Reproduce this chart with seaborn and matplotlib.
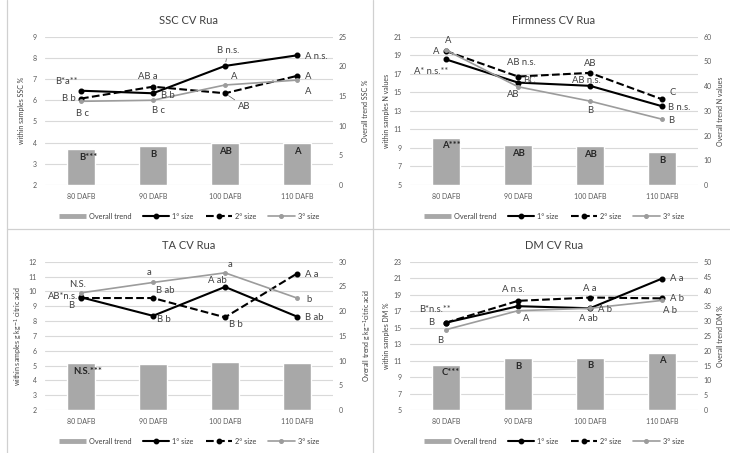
import numpy as np
import matplotlib
matplotlib.use("Agg")
import matplotlib.pyplot as plt
from matplotlib.lines import Line2D
import seaborn as sns

# ---------------- data ----------------
stages = ["80 DAFB", "90 DAFB", "100 DAFB", "110 DAFB"]
legend_labels = ["Overall trend", "1° size", "2° size", "3° size"]

# SSC (%)
ssc_overall = [6.05, 6.55, 7.0, 7.0]
ssc_size1 = [6.45, 6.33, 7.62, 8.12]
ssc_size2 = [6.08, 6.64, 6.33, 7.15]
ssc_size3 = [5.95, 6.0, 6.72, 6.95]
ssc_letters1 = ["B*a**", "B b", "B n.s.", "A n.s."]
ssc_letters2 = ["B b", "AB a", "AB", "A"]
ssc_letters3 = ["B c", "B c", "A", "A"]
ssc_bar_letters = ["B***", "B", "AB", "A"]

# Firmness (N)
firm_overall = [19.1, 16.0, 15.6, 13.2]
firm_size1 = [18.55, 16.05, 15.7, 13.5]
firm_size2 = [19.45, 16.7, 17.1, 14.25]
firm_size3 = [19.55, 15.6, 14.05, 12.1]
firm_letters1 = ["A* n.s.**", "BC", "AB n.s.", "B n.s."]
firm_letters2 = ["A", "AB n.s.", "AB", "C"]
firm_letters3 = ["A", "AB", "B", "B"]
firm_bar_letters = ["A***", "AB", "AB", "B"]

# TA (g kg-1 citric acid)
ta_overall = [9.45, 9.35, 9.8, 9.5]
ta_size1 = [9.6, 8.35, 10.3, 8.3]
ta_size2 = [9.55, 9.55, 8.25, 11.2]
ta_size3 = [9.9, 10.6, 11.25, 9.55]
ta_letters1 = ["AB*n.s.", "B b", "A ab", "B ab"]
ta_letters2 = ["B", "B ab", "B b", "A a"]
ta_letters3 = ["N.S.", "a", "a", "b"]
ta_bar_letters = ["N.S.***", "", "", ""]

# DM (%)
dm_overall = [15.2, 17.4, 17.6, 19.3]
dm_size1 = [15.6, 17.6, 17.35, 20.95]
dm_size2 = [15.6, 18.25, 18.65, 18.55]
dm_size3 = [14.75, 17.05, 17.35, 18.3]
dm_letters1 = ["B*n.s.**", "", "A b", "A a"]
dm_letters2 = ["B", "A n.s.", "A a", "A b"]
dm_letters3 = ["B", "A", "A ab", "A b"]
dm_bar_letters = ["C***", "B", "B", "A"]

# ---------------- style ----------------
sns.set_theme(style="white")
plt.rcParams["font.family"] = ["Lato", "DejaVu Sans"]
plt.rcParams["mathtext.fontset"] = "dejavusans"

BAR = "#a8a8a8"
GRAY = "#9c9c9c"
TXT = "#404040"
TICK = "#595959"
GRID = "#d9d9d9"

W, H = 730, 453


def box(x0, y0, x1, y1):
    return [x0 / W, 1 - y1 / H, (x1 - x0) / W, (y1 - y0) / H]


series_style = [
    dict(color="black", ls="-", lw=1.5, ms=3.2),
    dict(color="black", ls="--", lw=1.5, ms=3.2),
    dict(color=GRAY, ls="-", lw=1.2, ms=2.6),
]

# label offsets in pixels (dx, dy, ha[, leader line])
panels = [
    dict(
        title="SSC CV Rua", rect=box(45, 36.7, 333, 185), rlab_x=1.10,
        overall=ssc_overall, sizes=[ssc_size1, ssc_size2, ssc_size3],
        letters=[ssc_letters1, ssc_letters2, ssc_letters3], bar_letters=ssc_bar_letters,
        left=(2, 9, 1), right=(0, 25, 5),
        ylab="within samples SSC %", rlab="Overall trend SSC %",
        offs=[
            [(-3, 9, "right"), (8, -2, "left"), (3, 15, "center", True), (8, -1, "left")],
            [(-5, 0, "right"), (-5, 10, "center"), (13, -13, "left", True), (8, -1, "left")],
            [(2, -12, "center"), (5, -10, "center"), (9, 9, "center"), (8, -11, "left")],
        ],
        bar_dx=[7, 0, 0, 0],
    ),
    dict(
        title="Firmness CV Rua", rect=box(410, 36.7, 698, 185), rlab_x=1.065,
        overall=firm_overall, sizes=[firm_size1, firm_size2, firm_size3],
        letters=[firm_letters1, firm_letters2, firm_letters3], bar_letters=firm_bar_letters,
        left=(5, 21, 2), right=(0, 60, 10),
        ylab="within samples N values", rlab="Overall trend N values",
        offs=[
            [(2, -12, "right"), (5, 2, "left"), (-4, 5, "center"), (6, -1, "left")],
            [(-7, 0, "right"), (3, 14, "center"), (0, 9, "center"), (8, 7, "left")],
            [(2, 10, "center"), (-5, -8, "center"), (0, -9, "center"), (6, -1, "left")],
        ],
        bar_dx=[5, 0, 0, 0],
    ),
    dict(
        title="TA CV Rua", rect=box(45, 261.7, 333, 410), rlab_x=1.10,
        overall=ta_overall, sizes=[ta_size1, ta_size2, ta_size3],
        letters=[ta_letters1, ta_letters2, ta_letters3], bar_letters=ta_bar_letters,
        left=(2, 12, 1), right=(0, 30, 5),
        ylab=r"within samples g kg$^{-1}$ citric acid", rlab=r"Overall trend g kg$^{-1}$citric acid",
        offs=[
            [(-3, 1, "right"), (4, -4, "left"), (-8, 6, "center"), (8, -1, "left")],
            [(-7, -7, "right"), (3, 8, "left"), (4, -7, "left"), (8, -1, "left")],
            [(-3, 8, "center"), (-4, 10, "center"), (5, 8, "center"), (9, -1, "left")],
        ],
        bar_dx=[7, 0, 0, 0],
    ),
    dict(
        title="DM CV Rua", rect=box(410, 261.7, 698, 410), rlab_x=1.065,
        overall=dm_overall, sizes=[dm_size1, dm_size2, dm_size3],
        letters=[dm_letters1, dm_letters2, dm_letters3], bar_letters=dm_bar_letters,
        left=(5, 23, 2), right=(0, 50, 5),
        ylab="within samples DM %", rlab="Overall trend DM %",
        offs=[
            [(-11, 13, "center"), (0, 0, "center"), (8, -1, "left"), (8, 0, "left")],
            [(-12, 0, "right"), (-5, 11, "center"), (0, 9, "center"), (8, 0, "left")],
            [(-6, -11, "center"), (8, -8, "center"), (-2, -10, "center"), (1, -10, "left")],
        ],
        bar_dx=[5, 0, 0, 0],
    ),
]

fig = plt.figure(figsize=(7.3, 4.53), dpi=100)
fig.patch.set_facecolor("white")


def draw_panel(p):
    ax = fig.add_axes(p["rect"])
    ax_bar = ax.twinx()
    ax_line = ax.twinx()

    # overall trend bars on the secondary (right) scale
    sns.barplot(x=stages, y=p["overall"], color=BAR, saturation=1, width=0.39,
                errorbar=None, ax=ax_bar)

    # within-sample lines on the primary (left) scale
    for vals, st in zip(p["sizes"], series_style):
        sns.pointplot(x=stages, y=vals, color=st["color"], linestyles=st["ls"],
                      markers="o", markersize=st["ms"], linewidth=st["lw"],
                      errorbar=None, ax=ax_line)

    lo, hi, step = p["left"]
    rlo, rhi, rstep = p["right"]
    for a in (ax, ax_bar, ax_line):
        a.set_xlim(-0.5, 3.5)
        for s in a.spines.values():
            s.set_visible(False)
    ax.set_ylim(lo, hi)
    ax_line.set_ylim(lo, hi)
    ax_bar.set_ylim(rlo, rhi)

    ax.set_yticks(np.arange(lo, hi + 0.01, step))
    ax_bar.set_yticks(np.arange(rlo, rhi + 0.01, rstep))
    ax.yaxis.grid(True, color=GRID, lw=0.8)
    ax.xaxis.grid(False)
    ax_bar.grid(False)
    ax.set_axisbelow(True)

    ax.set_xticks(range(len(stages)))
    ax.set_xticklabels(stages)
    ax.tick_params(axis="x", length=0, labelsize=5, labelcolor=TICK, pad=6)
    ax.tick_params(axis="y", length=0, labelsize=5, labelcolor=TICK, pad=6)
    ax_bar.tick_params(axis="y", length=0, labelsize=5, labelcolor=TICK, pad=4)
    ax.set_xlabel("")
    ax_bar.set_xlabel("")
    ax.set_ylabel(p["ylab"], fontsize=5, color=TXT)
    ax_bar.set_ylabel(p["rlab"], fontsize=5, color=TXT)
    ax.yaxis.set_label_coords(-0.07, 0.5)
    ax_bar.yaxis.set_label_coords(p["rlab_x"], 0.5)
    ax.set_title(p["title"], fontsize=8, color=TXT, pad=9)
    ax_line.set_axis_off()

    # significance letters on the bars
    for i, (v, t) in enumerate(zip(p["overall"], p["bar_letters"])):
        if t:
            ax_bar.annotate(t, xy=(i, v), xytext=(p["bar_dx"][i], -8),
                            textcoords="offset pixels", ha="center", va="center",
                            fontsize=6.8, fontweight="bold", color="#262626")

    # significance letters next to the points
    for vals, lbls, offs in zip(p["sizes"], p["letters"], p["offs"]):
        for i, (v, t, o) in enumerate(zip(vals, lbls, offs)):
            if not t:
                continue
            kw = {}
            if len(o) > 3 and o[3]:
                kw["arrowprops"] = dict(arrowstyle="-", color=TICK, lw=0.5,
                                        shrinkA=0, shrinkB=3)
            ax_line.annotate(t, xy=(i, v), xytext=(o[0], o[1]),
                             textcoords="offset pixels", ha=o[2], va="center",
                             fontsize=6.8, color=TXT, **kw)

    handles = [
        Line2D([], [], color=BAR, lw=3.5, solid_capstyle="butt"),
        Line2D([], [], color="black", lw=1.5, marker="o", ms=3.2),
        Line2D([], [], color="black", lw=1.5, ls="--", marker="o", ms=3.2),
        Line2D([], [], color=GRAY, lw=1.2, marker="o", ms=2.6),
    ]
    leg = ax_line.legend(handles, legend_labels, loc="center",
                         bbox_to_anchor=(0.5, -0.21), ncol=4, frameon=False,
                         fontsize=5.3, handlelength=3.6, columnspacing=1.6,
                         handletextpad=0.4)
    for t in leg.get_texts():
        t.set_color(TXT)


for p in panels:
    draw_panel(p)

# panel separators
for xs, ys in [([7 / W, 7 / W], [0, 1]), ([373 / W, 373 / W], [0, 1]),
               ([7 / W, 1], [1 - 229 / H, 1 - 229 / H])]:
    fig.add_artist(Line2D(xs, ys, transform=fig.transFigure, color="#d0d0d0", lw=0.9))

fig.savefig("out.png", dpi=100)
